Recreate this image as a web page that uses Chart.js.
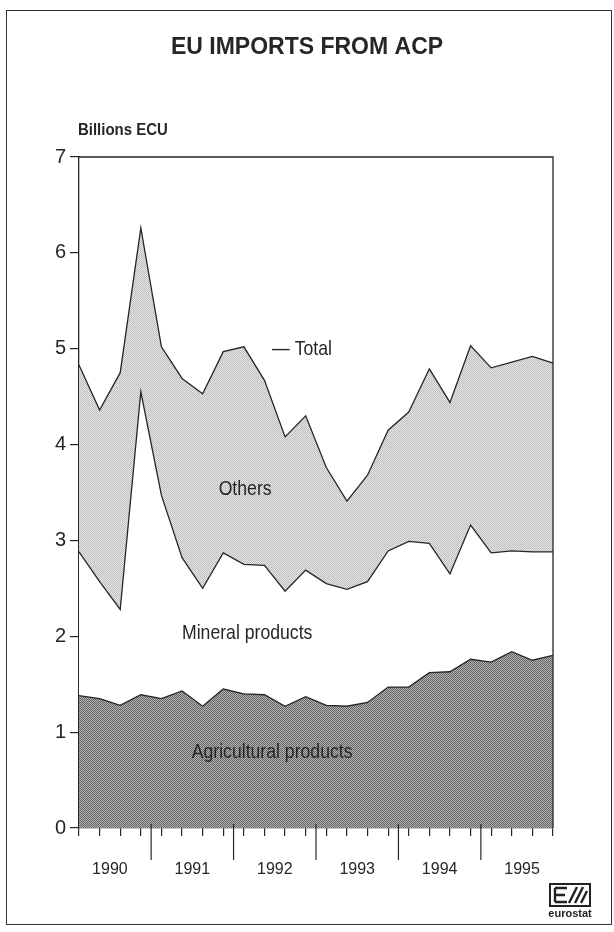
<!DOCTYPE html>
<html>
<head>
<meta charset="utf-8">
<script src="https://cdn.jsdelivr.net/npm/chart.js@4.4.0/dist/chart.umd.min.js"></script>
<style>
  body { margin: 0; background: #fff; }
  #wrap { position: relative; width: 614px; height: 932px; }
  #grafico { position: absolute; left: 0; top: 0; }
  #marco { position: absolute; left: 6px; top: 10px; width: 606px; height: 915px; border: 1.5px solid #333; box-sizing: border-box; }
  #logo { position: absolute; left: 547px; top: 882px; }
</style>
</head>
<body>
<div id="wrap">
  <canvas id="grafico" width="614" height="932"></canvas>
  <div id="marco"></div>
  <svg id="logo" width="48" height="40" viewBox="0 0 48 40">
    <rect x="3" y="2" width="40" height="22" fill="none" stroke="#222" stroke-width="2"/>
    <path d="M8 6 H20 M8 13 H18 M8 20 H20 M8 6 V20" stroke="#222" stroke-width="2.4" fill="none"/>
    <path d="M22 21 L30 5 M28 21 L36 5 M34 21 L40 9" stroke="#222" stroke-width="2.4" fill="none"/>
    <text x="23" y="35" text-anchor="middle" font-family="Liberation Sans, Arial, sans-serif" font-weight="bold" font-size="11" fill="#222">eurostat</text>
  </svg>
</div>
<script>
// trimestres 1990-1995
var anos = ['1990', '1991', '1992', '1993', '1994', '1995'];
var trimestres = ['1990 Q1', '1990 Q2', '1990 Q3', '1990 Q4',
                  '1991 Q1', '1991 Q2', '1991 Q3', '1991 Q4',
                  '1992 Q1', '1992 Q2', '1992 Q3', '1992 Q4',
                  '1993 Q1', '1993 Q2', '1993 Q3', '1993 Q4',
                  '1994 Q1', '1994 Q2', '1994 Q3', '1994 Q4',
                  '1995 Q1', '1995 Q2', '1995 Q3', '1995 Q4'];

// miles de millones ECU
var agricolas = [1.38, 1.35, 1.28, 1.39, 1.35, 1.43, 1.27, 1.45, 1.40, 1.39, 1.27, 1.37,
                 1.28, 1.27, 1.31, 1.47, 1.47, 1.62, 1.63, 1.76, 1.73, 1.84, 1.75, 1.80];
var minerales = [1.50, 1.22, 1.00, 3.16, 2.12, 1.39, 1.23, 1.42, 1.35, 1.35, 1.20, 1.32,
                 1.27, 1.22, 1.26, 1.42, 1.52, 1.35, 1.02, 1.40, 1.14, 1.05, 1.13, 1.08];
var otros = [1.95, 1.79, 2.47, 1.71, 1.55, 1.87, 2.03, 2.10, 2.27, 1.93, 1.61, 1.61,
             1.21, 0.92, 1.11, 1.26, 1.35, 1.82, 1.79, 1.87, 1.93, 1.97, 2.04, 1.97];
var ticksY = [0, 1, 2, 3, 4, 5, 6, 7];

var fuente = "'Liberation Sans', Arial, sans-serif";
var colorTinta = '#262626';

// trama punteada tipo impresion
function crearTrama(oscuro, claro) {
  var c = document.createElement('canvas');
  c.width = 2; c.height = 2;
  var g = c.getContext('2d');
  g.fillStyle = claro; g.fillRect(0, 0, 2, 2);
  g.fillStyle = oscuro; g.fillRect(0, 0, 1, 1); g.fillRect(1, 1, 1, 1);
  return g.createPattern(c, 'repeat');
}
var ctx = document.getElementById('grafico').getContext('2d');
var tramaOscura = crearTrama('#666666', '#b2b2b2');
var tramaClara = crearTrama('#bcbcbc', '#e8e8e8');

// textos dentro del grafico, en coordenadas de datos
var rotulos = [
  { texto: '— Total', x: 9.37, y: 5.0, align: 'left' },
  { texto: 'Others', x: 8.06, y: 3.53, align: 'center' },
  { texto: 'Mineral products', x: 8.16, y: 2.03, align: 'center' },
  { texto: 'Agricultural products', x: 9.37, y: 0.79, align: 'center' }
];

// texto angosto (imita Helvetica Narrow)
function textoAngosto(c, texto, x, y, align, escala) {
  c.save();
  c.translate(x, y);
  c.scale(escala, 1);
  c.textAlign = align;
  c.fillText(texto, 0, 0);
  c.restore();
}

var pluginDecorado = {
  id: 'decorado',
  afterDraw: function(chart) {
    var c = chart.ctx, a = chart.chartArea;
    var sx = chart.scales.x, sy = chart.scales.y;
    c.save();
    // marco superior y derecho
    c.strokeStyle = colorTinta;
    c.lineWidth = 1.3;
    c.beginPath();
    c.moveTo(a.left, a.top); c.lineTo(a.right, a.top); c.lineTo(a.right, a.bottom);
    c.stroke();
    // separadores de anos
    c.lineWidth = 1.2;
    for (var i = 1; i < anos.length; i++) {
      var xs = (sx.getPixelForValue(i * 4 - 1) + sx.getPixelForValue(i * 4)) / 2;
      c.beginPath(); c.moveTo(xs, a.bottom - 4); c.lineTo(xs, a.bottom + 32); c.stroke();
    }
    c.fillStyle = colorTinta;
    c.textBaseline = 'middle';
    // titulo
    c.font = 'bold 23px ' + fuente;
    c.textAlign = 'center';
    c.fillText('EU IMPORTS FROM ACP', 307, 48);
    // rotulos
    c.font = '21px ' + fuente;
    rotulos.forEach(function(r) {
      textoAngosto(c, r.texto, sx.getPixelForValue(r.x), sy.getPixelForValue(r.y), r.align, 0.84);
    });
    // unidad
    c.font = 'bold 17px ' + fuente;
    textoAngosto(c, 'Billions ECU', a.left - 1, a.top - 27, 'left', 0.88);
    c.restore();
  }
};

var datos = {
  labels: trimestres,
  datasets: [{
    label: 'Agricultural products',
    data: agricolas,
    backgroundColor: tramaOscura,
    borderColor: colorTinta,
    borderWidth: 1.3,
    fill: 'origin',
    pointRadius: 0,
    tension: 0
  }, {
    label: 'Mineral products',
    data: minerales,
    backgroundColor: '#ffffff',
    borderColor: colorTinta,
    borderWidth: 1.3,
    fill: '-1',
    pointRadius: 0,
    tension: 0
  }, {
    label: 'Others',
    data: otros,
    backgroundColor: tramaClara,
    borderColor: colorTinta,
    borderWidth: 1.3,
    fill: '-1',
    pointRadius: 0,
    tension: 0
  }]
};

var opciones = {
  responsive: false,
  animation: false,
  layout: { padding: { left: 39, right: 61, top: 157, bottom: 0 } },
  plugins: {
    legend: { display: false },
    tooltip: { enabled: false },
    title: { display: false }
  },
  scales: {
    x: {
      type: 'category',
      offset: false,
      grid: { drawOnChartArea: false, tickLength: 8, color: colorTinta, lineWidth: 1.2 },
      border: { color: colorTinta, width: 1.3 },
      ticks: {
        autoSkip: false,
        maxRotation: 0,
        padding: 24,
        labelOffset: 10.3,
        color: colorTinta,
        font: { family: fuente, size: 16 },
        callback: function(v, i) { return i % 4 === 1 ? anos[(i - 1) / 4] : ''; }
      },
      afterFit: function(s) { s.height = 104; }
    },
    y: {
      stacked: true,
      min: 0,
      max: 7,
      afterBuildTicks: function(s) { s.ticks = ticksY.map(function(v) { return { value: v }; }); },
      grid: { drawOnChartArea: false, tickLength: 9, color: colorTinta, lineWidth: 1.2 },
      border: { color: colorTinta, width: 1.3 },
      ticks: {
        padding: 4,
        color: colorTinta,
        font: { family: fuente, size: 20 }
      },
      afterFit: function(s) { s.width = 40; }
    }
  }
};

var graficoImportaciones = new Chart(ctx, {
  type: 'line',
  data: datos,
  options: opciones,
  plugins: [pluginDecorado]
});
</script>
</body>
</html>
